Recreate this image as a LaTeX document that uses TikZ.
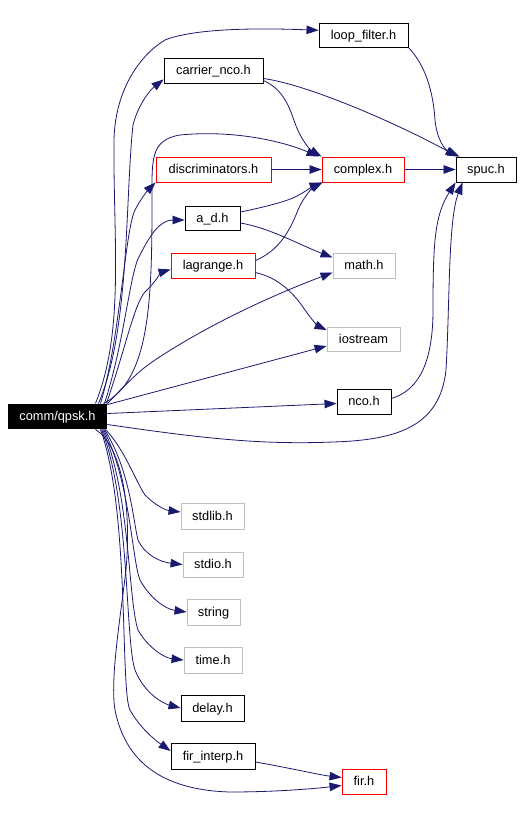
\documentclass[tikz,border=0pt]{standalone}
\usepackage{fontspec}
\setmainfont{Liberation Sans}
\usetikzlibrary{arrows.meta}
\definecolor{edgeblue}{RGB}{25,25,112}
\definecolor{extgray}{RGB}{191,191,191}
\begin{document}
\begin{tikzpicture}[x=1pt,y=-1pt,
  every node/.style={font=\fontsize{12.8}{15}\selectfont,inner sep=0pt,minimum height=25pt,text height=10pt,text depth=2pt,line width=0.9pt},
  hdr/.style={draw=black},
  redhdr/.style={draw=red},
  syshdr/.style={draw=extgray},
  inc/.style={draw=edgeblue,line width=0.8pt,-{Triangle[length=12pt,width=8.5pt]}}]
\useasboundingbox (0,0) rectangle (529,825);
\node[fill=black,text=white,minimum width=99pt] (qpsk) at (57.5,416.5) {comm/qpsk.h};
\node[hdr,minimum width=89pt,minimum height=24pt] (loopfilter) at (363.5,35) {loop\_filter.h};
\node[hdr,minimum width=99pt] (carrier) at (213.5,70.5) {carrier\_nco.h};
\node[redhdr,minimum width=115pt] (discrim) at (213.5,169.5) {discriminators.h};
\node[redhdr,minimum width=82pt] (complex) at (363,169.5) {complex.h};
\node[hdr,minimum width=60pt] (spuc) at (486,169.5) {spuc.h};
\node[hdr,minimum width=55pt,minimum height=24pt] (ad) at (212.5,218) {a\_d.h};
\node[redhdr,minimum width=84pt] (lagrange) at (213,265.5) {lagrange.h};
\node[syshdr,minimum width=62pt] (math) at (364,265.5) {math.h};
\node[syshdr,minimum width=73pt,minimum height=24pt] (iostream) at (363.5,339) {iostream};
\node[hdr,minimum width=54pt] (nco) at (364,401.5) {nco.h};
\node[syshdr,minimum width=63pt,minimum height=26pt] (stdlib) at (212.5,516) {stdlib.h};
\node[syshdr,minimum width=60pt] (stdio) at (213,564.5) {stdio.h};
\node[syshdr,minimum width=53pt,minimum height=26pt] (string) at (213.5,612) {string};
\node[syshdr,minimum width=58pt,minimum height=26pt] (time) at (213,660) {time.h};
\node[hdr,minimum width=63pt,minimum height=26pt] (delay) at (212.5,708) {delay.h};
\node[hdr,minimum width=84pt,minimum height=26pt] (firinterp) at (213,756) {fir\_interp.h};
\node[redhdr,minimum width=44pt] (fir) at (364,781.5) {fir.h};

\draw[inc] ([xshift=-12pt]qpsk.north east) .. controls (125,330) and (113,240) .. (114,140) .. controls (115,90) and (140,55) .. (165,40) .. controls (195,28) and (260,28) .. (loopfilter.174);
\draw[inc] ([xshift=-9pt]qpsk.north east) .. controls (130,330) and (125,200) .. (133,125) .. controls (138,105) and (150,90) .. ([yshift=4pt]carrier.south west);
\draw[inc] ([xshift=-7pt]qpsk.north east) .. controls (120,340) and (125,230) .. (135,210) .. controls (140,200) and (148,190) .. (discrim.south west);
\draw[inc] ([xshift=-4pt]qpsk.north east) .. controls (150,380) and (152,300) .. (152,200) .. controls (152,160) and (150,140) .. (180,135) .. controls (230,130) and (280,140) .. ([xshift=-3pt]complex.north west);
\draw[inc] ([xshift=-3pt]qpsk.north east) .. controls (125,340) and (130,270) .. (140,255) .. controls (150,235) and (160,220) .. ([yshift=-2pt]ad.west);
\draw[inc] ([xshift=-1pt]qpsk.north east) .. controls (128,340) and (135,300) .. (147,290) .. controls (155,282) and (162,272) .. ([yshift=-4pt]lagrange.west);
\draw[inc] (qpsk.north east) .. controls (130,380) and (140,370) .. (155,360) .. controls (200,330) and (260,300) .. ([yshift=-7pt]math.west);
\draw[inc] ([yshift=-1pt]qpsk.north east) -- ([yshift=-7pt]iostream.west);
\draw[inc] ([yshift=3pt]qpsk.east) -- ([yshift=-2pt]nco.west);
\draw[inc] ([yshift=-8pt]qpsk.east) .. controls (200,438) and (260,445) .. (333,442) .. controls (400,440) and (440,425) .. (446,370) .. controls (450,300) and (448,220) .. ([xshift=7pt]spuc.south west);

\draw[inc] ([yshift=3pt]nco.east) .. controls (420,390) and (433,360) .. (433,310) .. controls (433,240) and (435,215) .. (spuc.south west);
\draw[inc] (loopfilter.south east) .. controls (425,65) and (433,90) .. (435,120) .. controls (437,140) and (445,150) .. ([xshift=4pt]spuc.north west);
\draw[inc] ([yshift=-8pt]carrier.east) .. controls (310,85) and (400,125) .. ([xshift=2pt]spuc.north west);
\draw[inc] ([yshift=-10pt]carrier.east) .. controls (285,90) and (290,110) .. (295,123) .. controls (300,138) and (310,150) .. (complex.north west);
\draw[inc] (discrim.east) -- (complex.west);
\draw[inc] (complex.east) -- (spuc.west);
\draw[inc] ([yshift=6pt]ad.east) .. controls (260,208) and (285,202) .. (295,197) .. controls (305,192) and (315,185) .. (complex.south west);
\draw[inc] ([yshift=-5pt]ad.east) .. controls (270,228) and (300,245) .. ([yshift=8pt]math.west);
\draw[inc] ([yshift=5pt]lagrange.east) .. controls (280,250) and (290,230) .. (298,210) .. controls (303,198) and (312,188) .. ([xshift=1pt]complex.south west);
\draw[inc] ([yshift=-7pt]lagrange.east) .. controls (280,278) and (295,295) .. (305,310) .. controls (312,320) and (318,326) .. ([yshift=9pt]iostream.west);

\draw[inc] ([xshift=-2pt]qpsk.south east) .. controls (125,450) and (135,480) .. (145,495) .. controls (155,505) and (165,510) .. ([yshift=4pt]stdlib.west);
\draw[inc] ([xshift=-3pt]qpsk.south east) .. controls (130,470) and (133,520) .. (138,540) .. controls (145,555) and (160,562) .. (stdio.west);
\draw[inc] ([xshift=-4pt]qpsk.south east) .. controls (130,480) and (132,560) .. (140,580) .. controls (150,598) and (165,609) .. (string.west);
\draw[inc] ([xshift=-5pt]qpsk.south east) .. controls (130,490) and (128,600) .. (138,630) .. controls (148,648) and (165,658) .. (time.west);
\draw[inc] ([xshift=-6pt]qpsk.south east) .. controls (130,500) and (125,640) .. (135,670) .. controls (145,695) and (165,704) .. (delay.west);
\draw[inc] ([xshift=-7pt]qpsk.south east) .. controls (130,510) and (120,690) .. (130,710) .. controls (140,728) and (155,740) .. ([yshift=5pt]firinterp.west);
\draw[inc] ([xshift=-12pt]qpsk.south east) .. controls (120,445) and (132,500) .. (126,570) .. controls (120,620) and (110,680) .. (115,710) .. controls (125,760) and (160,790) .. (230,792) .. controls (280,792) and (320,788) .. ([yshift=-4pt]fir.west);
\draw[inc] ([yshift=-6pt]firinterp.east) .. controls (290,768) and (320,775) .. ([yshift=4pt]fir.west);
\end{tikzpicture}
\end{document}
